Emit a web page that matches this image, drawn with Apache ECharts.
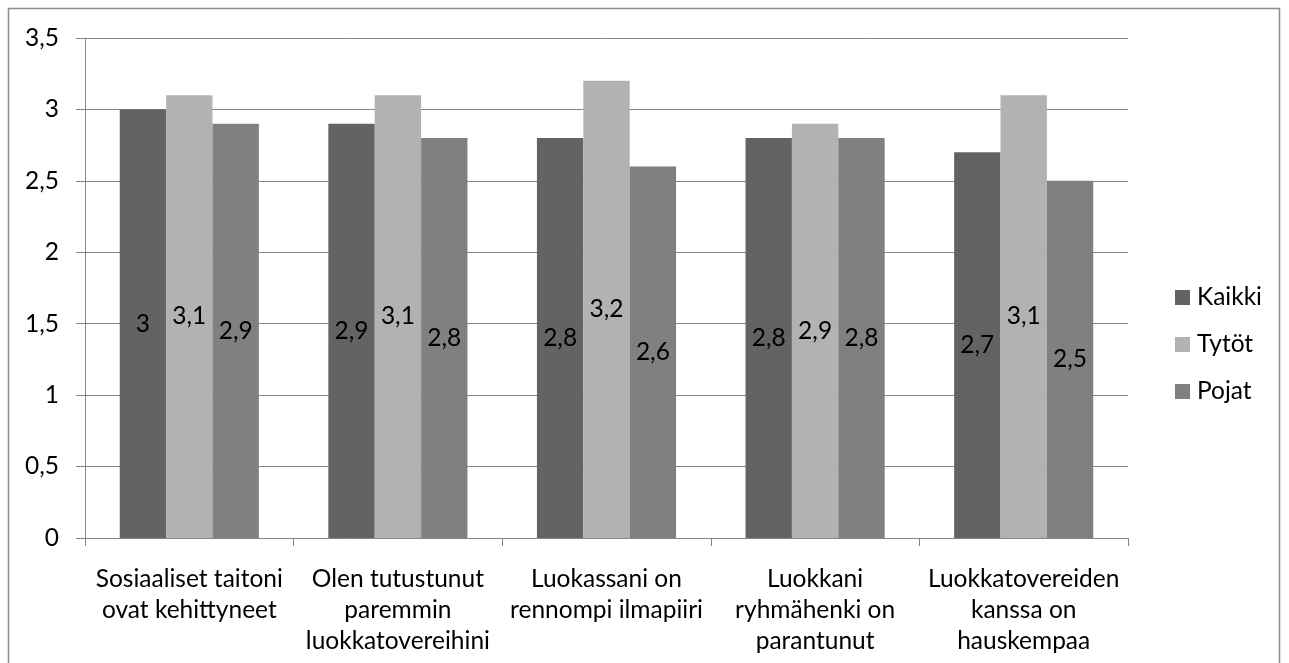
<!DOCTYPE html>
<html>
<head>
<meta charset="utf-8">
<script src="https://cdn.jsdelivr.net/npm/echarts@6/dist/echarts.min.js"></script>
<style>
  html, body { margin: 0; padding: 0; background: #fff; }
  #chart { width: 1289px; height: 663px; }
</style>
</head>
<body>
<div id="chart"></div>
<script>
// Survey statements (x-axis categories)
const categories = [
  'Sosiaaliset taitoni\novat kehittyneet',
  'Olen tutustunut\nparemmin\nluokkatovereihini',
  'Luokassani on\nrennompi ilmapiiri',
  'Luokkani\nryhmähenki on\nparantunut',
  'Luokkatovereiden\nkanssa on\nhauskempaa'
];
const seriesNames = ['Kaikki', 'Tytöt', 'Pojat'];
const kaikki = [3, 2.9, 2.8, 2.8, 2.7];
const tytot = [3.1, 3.1, 3.2, 2.9, 3.1];
const pojat = [2.9, 2.8, 2.6, 2.8, 2.5];
const yTicks = [0, 0.5, 1, 1.5, 2, 2.5, 3, 3.5];

const FONT = 'Lato, "Noto Sans", sans-serif';
const FONT_SIZE = 24.5;
const AXIS_GRAY = '#868686';
const colors = ['#636363', '#b2b2b2', '#808080'];
const fmt = v => String(v).replace('.', ',');

function barSeries(name, data, color) {
  return {
    name: name,
    type: 'bar',
    data: data,
    barGap: '0%',
    barCategoryGap: '33.3%',
    itemStyle: { color: color },
    label: {
      show: true,
      position: 'inside',
      color: '#000',
      fontFamily: FONT,
      fontSize: FONT_SIZE,
      formatter: p => fmt(p.value)
    }
  };
}

const chart = echarts.init(document.getElementById('chart'), null, { renderer: 'canvas' });
chart.setOption({
  animation: false,
  backgroundColor: '#fff',
  grid: { left: 85, right: 161, top: 38, bottom: 125, containLabel: false },
  legend: {
    orient: 'vertical',
    left: 1170,
    top: 280,
    icon: 'rect',
    itemWidth: 15,
    itemHeight: 15,
    itemGap: 22,
    data: seriesNames,
    textStyle: {
      fontFamily: FONT, fontSize: FONT_SIZE, color: '#000',
      padding: [0, 0, 0, 2]
    }
  },
  xAxis: {
    type: 'category',
    data: categories,
    boundaryGap: true,
    axisLine: { lineStyle: { color: AXIS_GRAY, width: 1 } },
    axisTick: { show: true, length: 8, alignWithLabel: false, lineStyle: { color: AXIS_GRAY } },
    axisLabel: {
      interval: 0,
      margin: 26,
      color: '#000',
      fontFamily: FONT,
      fontSize: FONT_SIZE,
      lineHeight: 31,
      align: 'center'
    }
  },
  yAxis: {
    type: 'value',
    min: yTicks[0],
    max: yTicks[yTicks.length - 1],
    interval: 0.5,
    axisLine: { show: true, lineStyle: { color: AXIS_GRAY, width: 1 } },
    axisTick: { show: true, length: 9, lineStyle: { color: AXIS_GRAY } },
    splitLine: { show: true, lineStyle: { color: AXIS_GRAY, width: 1 } },
    axisLabel: {
      margin: 26,
      color: '#000',
      fontFamily: FONT,
      fontSize: FONT_SIZE,
      formatter: v => fmt(v)
    }
  },
  graphic: [{
    type: 'rect',
    shape: { x: 8.5, y: 8.5, width: 1271, height: 700 },
    style: { fill: 'none', stroke: '#8c8c8c', lineWidth: 1.5 },
    silent: true,
    z: -1
  }],
  series: [
    barSeries(seriesNames[0], kaikki, colors[0]),
    barSeries(seriesNames[1], tytot, colors[1]),
    barSeries(seriesNames[2], pojat, colors[2])
  ]
});
</script>
</body>
</html>
